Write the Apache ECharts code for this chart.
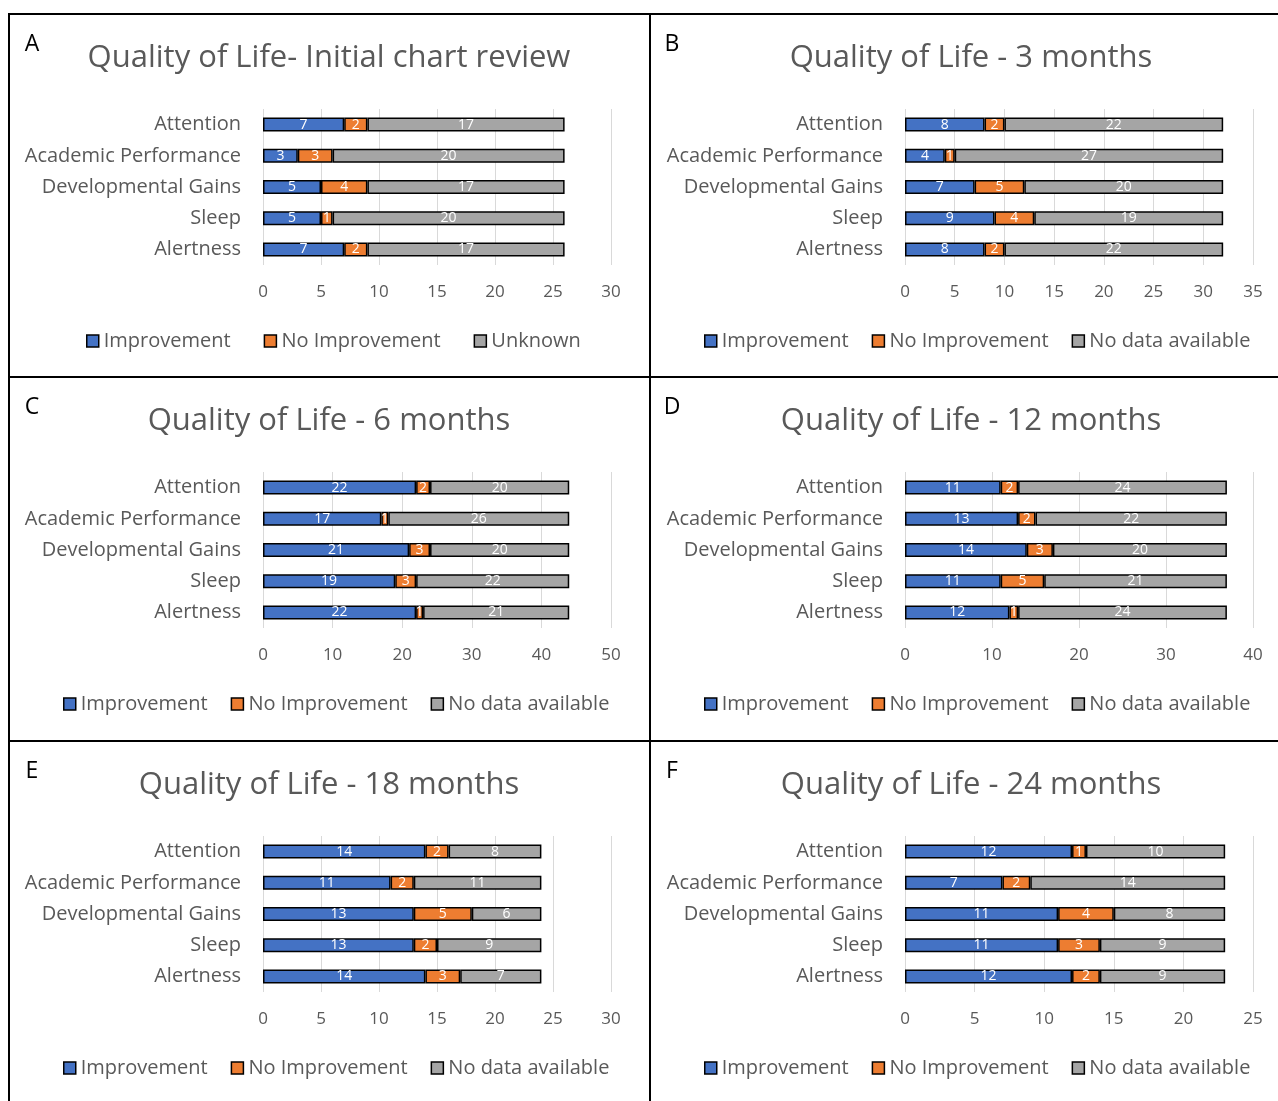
<!DOCTYPE html>
<html>
<head>
<meta charset="utf-8">
<title>Quality of Life</title>
<script src="https://cdn.jsdelivr.net/npm/echarts@6/dist/echarts.min.js"></script>
<style>
  html, body { margin: 0; padding: 0; background: #fff; }
  #chart { width: 1278px; height: 1101px; }
</style>
</head>
<body>
<div id="chart"></div>
<script>
// Outcome areas shown on every panel (top to bottom)
const categories = ['Attention', 'Academic Performance', 'Developmental Gains', 'Sleep', 'Alertness'];

// A – initial chart review
const improvementA = [7, 3, 5, 5, 7];
const noImprovementA = [2, 3, 4, 1, 2];
const unknownA = [17, 20, 17, 20, 17];

// B – 3 months
const improvementB = [8, 4, 7, 9, 8];
const noImprovementB = [2, 1, 5, 4, 2];
const noDataB = [22, 27, 20, 19, 22];

// C – 6 months
const improvementC = [22, 17, 21, 19, 22];
const noImprovementC = [2, 1, 3, 3, 1];
const noDataC = [20, 26, 20, 22, 21];

// D – 12 months
const improvementD = [11, 13, 14, 11, 12];
const noImprovementD = [2, 2, 3, 5, 1];
const noDataD = [24, 22, 20, 21, 24];

// E – 18 months
const improvementE = [14, 11, 13, 13, 14];
const noImprovementE = [2, 2, 5, 2, 3];
const noDataE = [8, 11, 6, 9, 7];

// F – 24 months
const improvementF = [12, 7, 11, 11, 12];
const noImprovementF = [1, 2, 4, 3, 2];
const noDataF = [10, 14, 8, 9, 9];

const panelLetters = ['A', 'B', 'C', 'D', 'E', 'F'];
const panelTitles = [
  'Quality of Life- Initial chart review',
  'Quality of Life - 3 months',
  'Quality of Life - 6 months',
  'Quality of Life - 12 months',
  'Quality of Life - 18 months',
  'Quality of Life - 24 months'
];
const seriesNamesA = ['Improvement', 'No Improvement', 'Unknown'];
const seriesNames = ['Improvement', 'No Improvement', 'No data available'];
const axisMax = [30, 35, 50, 40, 30, 25];
const axisStep = [5, 5, 10, 10, 5, 5];

const panelValues = [
  [improvementA, noImprovementA, unknownA],
  [improvementB, noImprovementB, noDataB],
  [improvementC, noImprovementC, noDataC],
  [improvementD, noImprovementD, noDataD],
  [improvementE, noImprovementE, noDataE],
  [improvementF, noImprovementF, noDataF]
];

// Layout of the 2 x 3 panel grid
const colPlotLeft = [263, 905];
const rowTop = [14, 377, 741];
const colTitleX = [329, 971];
const colLetterX = [32, 672];
const legendLeft = [[86, 704], [63, 704], [63, 704]];
const plotWidth = 348;
const plotHeight = 156;

const FONT = '"Open Sans", "Noto Sans", sans-serif';
const GREY_TEXT = '#595959';
const COLORS = ['#4472C4', '#ED7D31', '#A5A5A5'];

const grids = [], xAxes = [], yAxes = [], series = [], legends = [], graphics = [];

panelValues.forEach((vals, i) => {
  const col = i % 2, row = Math.floor(i / 2);
  const top = rowTop[row];
  const names = i === 0 ? seriesNamesA : seriesNames;

  grids.push({ left: colPlotLeft[col], top: top + 95, width: plotWidth, height: plotHeight });

  xAxes.push({
    gridIndex: i, type: 'value', min: 0, max: axisMax[i], interval: axisStep[i],
    axisLine: { show: false }, axisTick: { show: false },
    splitLine: { show: true, lineStyle: { color: '#d9d9d9', width: 1 } },
    axisLabel: { fontFamily: FONT, fontSize: 17, color: GREY_TEXT, margin: 19 }
  });

  yAxes.push({
    gridIndex: i, type: 'category', data: categories, inverse: true,
    axisLine: { show: false }, axisTick: { show: false },
    axisLabel: { fontFamily: FONT, fontSize: 20, color: GREY_TEXT, margin: 22 }
  });

  vals.forEach((arr, k) => {
    series.push({
      name: names[k], type: 'bar', stack: 'panel' + i,
      xAxisIndex: i, yAxisIndex: i, barWidth: 14, data: arr,
      itemStyle: { color: COLORS[k], borderColor: '#000', borderWidth: 1.5 },
      label: { show: true, position: 'inside', color: '#fff', fontFamily: FONT, fontSize: 14 }
    });
  });

  legends.push({
    data: names, left: legendLeft[row][col], top: top + 317, padding: 0,
    icon: 'rect', itemWidth: 12, itemHeight: 12, itemGap: i === 0 ? 33 : 23,
    itemStyle: { borderColor: '#000', borderWidth: 1.5 },
    textStyle: { fontFamily: FONT, fontSize: 20, color: GREY_TEXT },
    selectedMode: false
  });

  graphics.push({
    type: 'text', x: colTitleX[col], y: top + 44,
    style: { text: panelTitles[i], fill: GREY_TEXT, font: '31px ' + FONT, textAlign: 'center', textVerticalAlign: 'middle' }
  });
  graphics.push({
    type: 'text', x: colLetterX[col], y: top + 30,
    style: { text: panelLetters[i], fill: '#000', font: '23px ' + FONT, textAlign: 'center', textVerticalAlign: 'middle' }
  });
});

// Panel frame lines
const frame = [
  [8, 14, 1278, 14], [8, 377, 1278, 377], [8, 741, 1278, 741],
  [9, 14, 9, 1101], [650, 14, 650, 1101]
];
frame.forEach(([x1, y1, x2, y2]) => {
  graphics.push({ type: 'line', shape: { x1, y1, x2, y2 }, style: { stroke: '#000', lineWidth: 2 } });
});

const chart = echarts.init(document.getElementById('chart'));
chart.setOption({
  backgroundColor: '#fff',
  animation: false,
  grid: grids,
  xAxis: xAxes,
  yAxis: yAxes,
  legend: legends,
  series: series,
  graphic: graphics
});
</script>
</body>
</html>
